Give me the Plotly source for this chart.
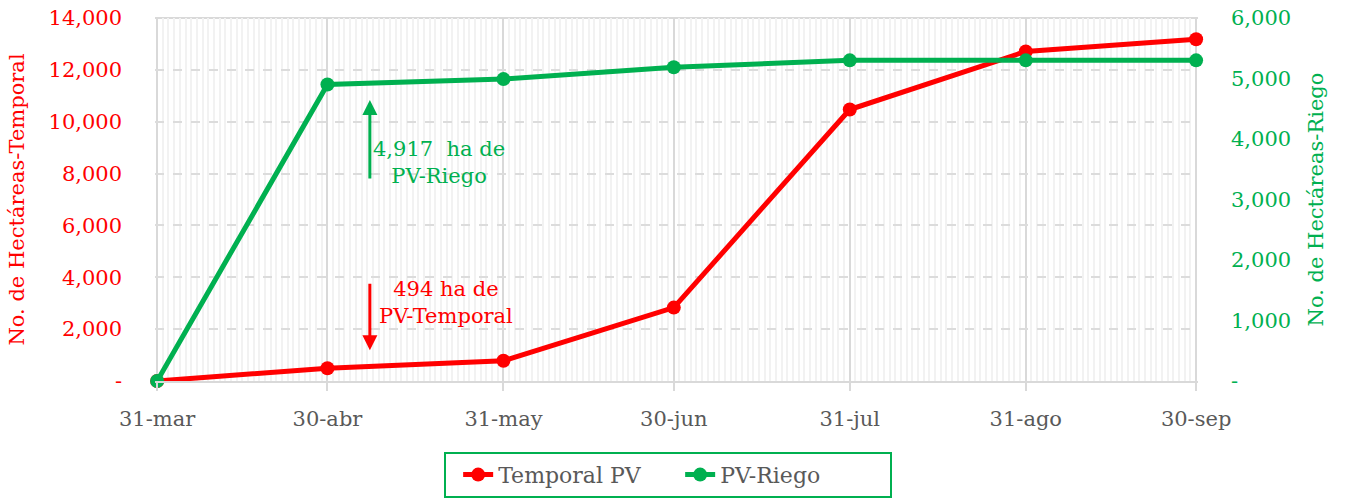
import plotly.graph_objects as go

dates = ["2024-03-31", "2024-04-30", "2024-05-31", "2024-06-30",
         "2024-07-31", "2024-08-31", "2024-09-30"]
date_labels = ["31-mar", "30-abr", "31-may", "30-jun", "31-jul", "31-ago", "30-sep"]
temporal = [0, 494, 780, 2830, 10470, 12710, 13180]
riego = [0, 4900, 4990, 5185, 5300, 5300, 5300]

left_ticks = [0, 2000, 4000, 6000, 8000, 10000, 12000, 14000]
left_text = ["-", "2,000", "4,000", "6,000", "8,000", "10,000", "12,000", "14,000"]
right_ticks = [0, 1000, 2000, 3000, 4000, 5000, 6000]
right_text = ["-", "1,000", "2,000", "3,000", "4,000", "5,000", "6,000"]

RED = "#FF0000"
GREEN = "#00B050"
GRAY = "#595959"
FONT = "DejaVu Serif"
FS = 21

fig = go.Figure()
fig.add_trace(go.Scatter(x=dates, y=temporal, name="Temporal PV", mode="lines+markers",
                         line=dict(color=RED, width=5), marker=dict(size=14, color=RED),
                         cliponaxis=False))
fig.add_trace(go.Scatter(x=dates, y=riego, name="PV-Riego", mode="lines+markers",
                         line=dict(color=GREEN, width=5), marker=dict(size=14, color=GREEN),
                         yaxis="y2", cliponaxis=False))

fig.update_layout(
    width=1350, height=502,
    margin=dict(l=155, r=152, t=18, b=121),
    plot_bgcolor="white", paper_bgcolor="white",
    font=dict(family=FONT, size=FS, color=GRAY),
    xaxis=dict(
        type="date", automargin=False,
        range=["2024-03-30 15:00", "2024-09-30 08:00"],
        tickvals=dates, ticktext=date_labels,
        showgrid=True, gridcolor="#d9d9d9", gridwidth=2,
        minor=dict(dtick=86400000, showgrid=True, gridcolor="#f2f2f2", gridwidth=1.5,
                   tick0="2024-03-31"),
        ticks="outside", ticklen=8, tickcolor="#d9d9d9", tickwidth=2,
        showline=True, linecolor="#d9d9d9", linewidth=2,
        tickfont=dict(family=FONT, size=FS, color=GRAY),
        ticklabelstandoff=10,
        zeroline=False, mirror=False,
    ),
    yaxis=dict(
        automargin=False,
        range=[0, 14000], tickvals=left_ticks, ticktext=left_text,
        showgrid=True, gridcolor="#dcdcdc", gridwidth=2, griddash="dash",
        zeroline=False,
        tickfont=dict(family=FONT, size=FS, color=RED),
        ticklabelstandoff=32,
        title=dict(text="No. de Hectáreas-Temporal", font=dict(family=FONT, size=FS, color=RED),
                   standoff=18),
    ),
    yaxis2=dict(
        automargin=False,
        range=[0, 6000], tickvals=right_ticks, ticktext=right_text,
        overlaying="y", side="right", showgrid=False, zeroline=False,
        tickfont=dict(family=FONT, size=FS, color=GREEN),
        ticklabelstandoff=32,
        title=dict(text="No. de Hectáreas-Riego", font=dict(family=FONT, size=FS, color=GREEN),
                   standoff=18),
    ),
    legend=dict(
        orientation="h", xref="paper", x=0.492, xanchor="center",
        yref="container", y=0.1, yanchor="top",
        bordercolor=GREEN, borderwidth=2,
        font=dict(family=FONT, size=22, color=GRAY),
        entrywidth=165, indentation=12,
    ),
    showlegend=True,
)

# Top border line of plot
fig.add_shape(type="line", xref="paper", yref="paper", x0=0, x1=1, y0=1, y1=1,
              line=dict(color="#d9d9d9", width=2), layer="below")

# Annotations with arrows
fig.add_annotation(xref="paper", yref="paper", x=0.206, y=0.774, ax=0, ay=80,
                   axref="pixel", ayref="pixel", text="", showarrow=True,
                   arrowhead=2, arrowsize=1, arrowwidth=3, arrowcolor=GREEN)
fig.add_annotation(xref="paper", yref="paper", x=0.272, y=0.603, xanchor="center",
                   yanchor="middle",
                   text="4,917  ha de<br>PV-Riego", showarrow=False,
                   font=dict(family=FONT, size=FS, color=GREEN), align="center")
fig.add_annotation(xref="paper", yref="paper", x=0.206, y=0.085, ax=0, ay=-68,
                   axref="pixel", ayref="pixel", text="", showarrow=True,
                   arrowhead=2, arrowsize=1, arrowwidth=3, arrowcolor=RED)
fig.add_annotation(xref="paper", yref="paper", x=0.279, y=0.215, xanchor="center",
                   yanchor="middle",
                   text="494 ha de<br>PV-Temporal", showarrow=False,
                   font=dict(family=FONT, size=FS, color=RED), align="center")

fig.write_html("out.html", config={"displayModeBar": False},
               post_script="document.body.style.margin='0';document.body.style.overflow='hidden';")
